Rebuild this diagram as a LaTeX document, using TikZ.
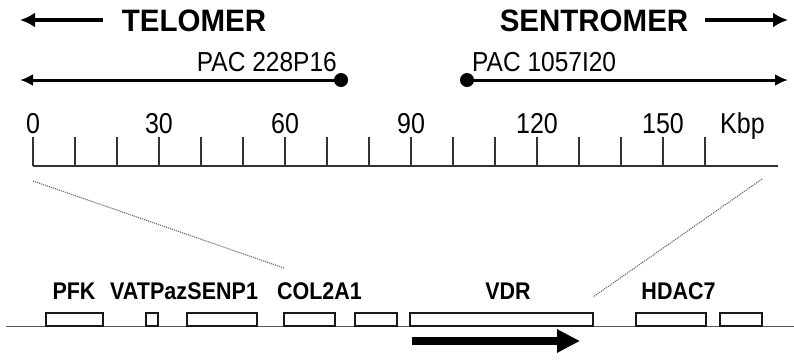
\documentclass[tikz,border=0pt]{standalone}
\usepackage{fontspec}
\usepackage{graphicx}
\setmainfont{Liberation Sans}
\usetikzlibrary{arrows.meta}
\newcommand\vtall[2][1.15]{\scalebox{1}[#1]{#2}}
\tikzset{
  bigtext/.style={font=\bfseries\fontsize{29.5}{30}\selectfont, inner sep=0pt, anchor=base},
  pactext/.style={font=\fontsize{24.5}{25}\selectfont, inner sep=0pt},
  numtext/.style={font=\fontsize{25}{25}\selectfont, inner sep=0pt, anchor=base},
  genetext/.style={font=\bfseries\fontsize{21.5}{22}\selectfont, inner sep=0pt, anchor=base},
  dirarrow/.style={line width=4pt, -{Latex[length=15pt,width=15pt]}},
  pacarrow/.style={line width=3pt, -{Latex[length=13pt,width=12pt]}},
  pacdot/.style={circle, fill=black, minimum size=14pt, inner sep=0pt},
  scaleline/.style={line width=2pt, draw=black!80},
  genebox/.style={draw=black!90, line width=1.6pt, fill=white, minimum height=13.5pt, inner sep=0pt},
  geneline/.style={line width=1.6pt, draw=black!65},
  zoomline/.style={draw=black!60, line width=1.1pt, densely dotted},
  strand/.style={line width=8.5pt, -{Triangle[length=23pt,width=22pt]}}
}
\begin{document}
\begin{tikzpicture}[x=1pt,y=-1pt]
\useasboundingbox (0,0) rectangle (794,360);
% direction labels
\node[bigtext] (tel) at (194,31) {\vtall[1.05]{TELOMER}};
\node[bigtext] (sen) at (594,31) {\vtall[1.05]{SENTROMER}};
\coordinate (telA) at (103,20);
\coordinate (telB) at (20,20);
\coordinate (senA) at (705,20);
\coordinate (senB) at (788,20);
\draw[dirarrow] (telA) -- (telB);
\draw[dirarrow] (senA) -- (senB);
% PAC clones
\node[pacdot] (dot1) at (341,80) {};
\node[pacdot] (dot2) at (467,80) {};
\coordinate (pac1end) at (20,80);
\coordinate (pac2end) at (788,80);
\draw[pacarrow] (dot1.center) -- (pac1end);
\draw[pacarrow] (dot2.center) -- (pac2end);
\node[pactext, anchor=base east] (pac1) at (337,71) {\vtall[1.12]{PAC 228P16}};
\node[pactext, anchor=base west] (pac2) at (472,71) {\vtall[1.12]{PAC 1057I20}};
% scale
\coordinate (sL) at (33,166);
\coordinate (sR) at (778,166);
\draw[scaleline] (sL) -- (sR);
\foreach \i in {0,...,16}{
  \draw[scaleline] (33+42*\i,137) -- (33+42*\i,166);
}
\foreach \v/\i in {0/0,30/3,60/6,90/9,120/12,150/15}{
  \node[numtext] (n\v) at (33+42*\i,133.5) {\vtall{\v}};
}
\node[numtext, anchor=base west] (kbp) at (720,133.5) {\vtall{Kbp}};
% zoom lines
\coordinate (zl1) at (33,181);
\coordinate (zl2) at (284,268);
\coordinate (zr1) at (762,179);
\coordinate (zr2) at (593,297);
\draw[zoomline] (zl1) -- (zl2);
\draw[zoomline] (zr1) -- (zr2);
% gene line
\coordinate (gL) at (6,326.5);
\coordinate (gR) at (794,326.5);
\draw[geneline] (gL) -- (gR);
% gene boxes
\node[genebox, minimum width=57pt] (pfk) at (74.5,319.5) {};
\node[genebox, minimum width=12pt] (vat) at (152,319.5) {};
\node[genebox, minimum width=70pt] (senp) at (222,319.5) {};
\node[genebox, minimum width=51pt] (col) at (309.5,319.5) {};
\node[genebox, minimum width=42pt] (g5) at (376,319.5) {};
\node[genebox, minimum width=183pt] (vdr) at (501.5,319.5) {};
\node[genebox, minimum width=70pt] (hdac) at (671,319.5) {};
\node[genebox, minimum width=42pt] (g8) at (741,319.5) {};
% gene labels
\node[genetext] (lpfk) at (74,299.5) {\vtall[1.12]{PFK}};
\node[genetext, anchor=base west] (lvat) at (110,299.5) {\vtall[1.12]{VATPaz}};
\node[genetext, anchor=base west] (lsenp) at (lvat.base east) {\vtall[1.12]{SENP1}};
\node[genetext] (lcol) at (319.5,299.5) {\vtall[1.12]{COL2A1}};
\node[genetext] (lvdr) at (508,299.5) {\vtall[1.12]{VDR}};
\node[genetext] (lhdac) at (678.5,299.5) {\vtall[1.12]{HDAC7}};
% transcription direction
\coordinate (trA) at (412,341);
\coordinate (trB) at (580,341);
\draw[strand] (trA) -- (trB);
\end{tikzpicture}
\end{document}
